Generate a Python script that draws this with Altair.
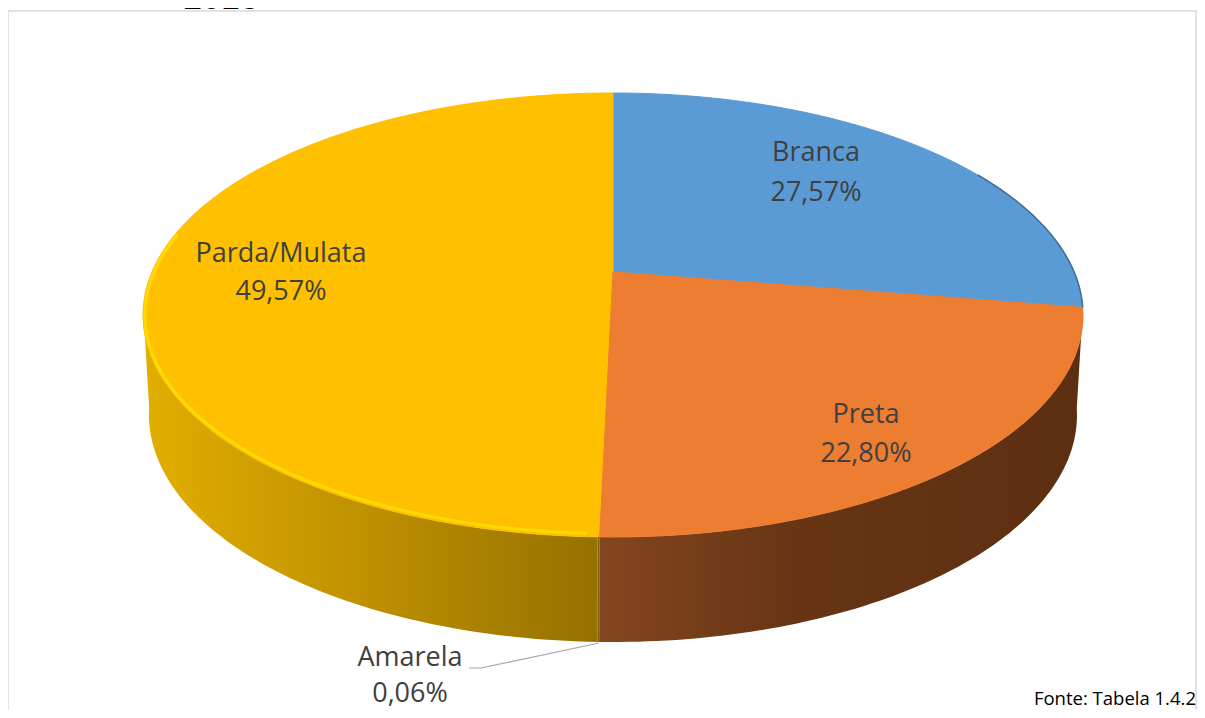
import numpy as np
import pandas as pd
import altair as alt

categories = ["Branca", "Preta", "Amarela", "Parda/Mulata"]
shares = [27.57, 22.80, 0.06, 49.57]
share_labels = ["27,57%", "22,80%", "0,06%", "49,57%"]
top_colors = ["#5B9BD5", "#ED7D31", "#FFC000", "#FFC000"]
label_x = [816, 866, 410, 281]
label_y = [[153, 193], [415, 454], [658, 694], [254, 292]]

CX, CY, A, B, C = 613, 315, 470, 222, 0.194
BOT_A, BOT_CY, BOT_B = 464, 415, 227
W, H = 1189, 702

xs = alt.Scale(domain=[8, 8 + W], range=[0, W])
ys = alt.Scale(domain=[8, 8 + H], range=[0, H])
X = lambda f="x": alt.X(f"{f}:Q", scale=xs, axis=None)
Y = lambda f="y": alt.Y(f"{f}:Q", scale=ys, axis=None)


def rim(theta):
    u, v = np.sin(theta), np.cos(theta)
    d = 1 + C * v
    return (CX + A * u * np.sqrt(1 - C * C) / d, CY - B * (v + C) / d)


def rim_param(theta):
    x, y = rim(theta)
    return np.arctan2((x - CX) / A, (CY - y) / B) % (2 * np.pi)


def poly(xv, yv):
    return pd.DataFrame({"x": xv, "y": yv, "i": np.arange(len(xv))})


def filled(df, fill):
    stroke = fill if isinstance(fill, str) else "transparent"
    return alt.Chart(df).mark_line(fill=fill, stroke=stroke, strokeWidth=1, clip=False).encode(
        x=X(), y=Y(), order=alt.Order("i:Q"))


edges = 2 * np.pi * np.concatenate([[0], np.cumsum(shares)]) / sum(shares)
apex = (CX, CY - B * C)


def wall(t0, t1, stops):
    t = np.linspace(t0, t1, 80)
    xa, ya = CX + A * np.sin(t), CY - B * np.cos(t)
    xb, yb = CX + BOT_A * np.sin(t), BOT_CY - BOT_B * np.cos(t)
    df = poly(np.r_[xa, xb[::-1]], np.r_[ya, yb[::-1]])
    grad = alt.LinearGradient(gradient="linear", x1=0, x2=1, y1=0, y2=0,
                              stops=[alt.GradientStop(offset=o, color=c) for o, c in stops])
    return filled(df, grad)


t_preta0 = np.pi / 2 - 0.03
t_amar0 = rim_param(edges[2])
t_parda0 = rim_param(edges[3])
walls = [
    wall(t_preta0, t_amar0, [(0, "#84461F"), (0.4, "#673514"), (1, "#5C2F11")]),
    wall(t_amar0, t_parda0, [(0, "#7F6000"), (1, "#7F6000")]),
    wall(t_parda0, 1.5 * np.pi + 0.03, [(0, "#E3AE00"), (0.5, "#BD9000"), (1, "#957100")]),
]

tops = []
for k in [0, 3, 2, 1]:
    th = np.linspace(edges[k], edges[k + 1], 120)
    rx, ry = rim(th)
    tops.append(filled(poly(np.r_[apex[0], rx, apex[0]], np.r_[apex[1], ry, apex[1]]), top_colors[k]))

# bevel highlight on the yellow slice
th = np.linspace(edges[3] + 0.02, 2 * np.pi * 0.78, 120)
hx, hy = rim(th)
bevel = alt.Chart(poly(CX + (hx - CX) * 0.996, CY + (hy - CY) * 0.985)).mark_line(
    strokeWidth=3, stroke="#FFDD00", opacity=0.9
).encode(x=X(), y=Y(), order=alt.Order("i:Q"))

# blue slice dark right edge
th = np.linspace(edges[0] + 1.05, edges[1], 40)
ex, ey = rim(th)
blue_edge = alt.Chart(poly(ex, ey)).mark_line(strokeWidth=1.5, stroke="#3F6D96").encode(
    x=X(), y=Y(), order=alt.Order("i:Q"))

border = alt.Chart(poly([8, 8, 1196, 1196], [730, 11, 11, 730])).mark_line(
    stroke="#D9D9D9", strokeWidth=1.5
).encode(x=X(), y=Y(), order=alt.Order("i:Q"))

leader = alt.Chart(poly([469, 481, 599], [668, 668, 643])).mark_line(
    stroke="#A6A6A6", strokeWidth=1.2
).encode(x=X(), y=Y(), order=alt.Order("i:Q"))

rows = []
for c, s, lx, (y1, y2) in zip(categories, share_labels, label_x, label_y):
    rows.append({"x": lx, "y": y1, "t": c})
    rows.append({"x": lx, "y": y2, "t": s})
labels = alt.Chart(pd.DataFrame(rows)).mark_text(
    font="Open Sans", fontSize=27, color="#404040", align="center", baseline="middle"
).encode(x=X(), y=Y(), text="t:N")

fonte = alt.Chart(pd.DataFrame({"x": [1196], "y": [699], "t": ["Fonte: Tabela 1.4.2"]})).mark_text(
    font="Open Sans", fontSize=18.5, color="#000000", align="right", baseline="middle"
).encode(x=X(), y=Y(), text="t:N")

title = alt.Chart(pd.DataFrame({"x": [221], "y": [9], "t": ["2018"]})).mark_text(
    font="Liberation Sans", fontSize=34, color="#000000", align="center", baseline="alphabetic"
).encode(x=X(), y=Y(), text="t:N")

chart = alt.layer(title, border, *walls, *tops, bevel, blue_edge, leader, labels, fonte).properties(
    width=W, height=H,
    padding=0, autosize=alt.AutoSizeParams(type="none"),
    background="#FFFFFF",
).configure_view(stroke=None)

chart.save("out.html", embed_options={"renderer": "svg", "actions": False})
